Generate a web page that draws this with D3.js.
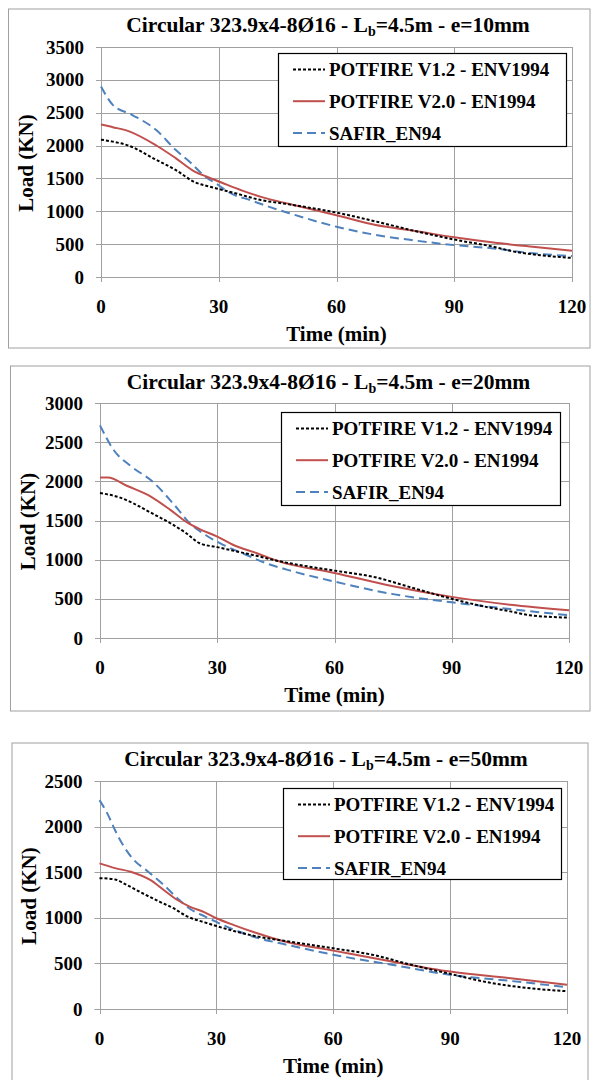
<!DOCTYPE html>
<html>
<head>
<meta charset="utf-8">
<script src="https://cdn.jsdelivr.net/npm/d3@7"></script>
<style>
  html, body { margin: 0; padding: 0; background: #fff; }
  svg { display: block; }
  text { font-family: "Liberation Serif", "Times New Roman", serif; font-weight: bold; fill: #000; }
</style>
</head>
<body>
<svg id="chart" width="591" height="1080"></svg>
<script>
// ---------- DATA ----------
const seriesNames = ["POTFIRE V1.2 - ENV1994", "POTFIRE V2.0 - EN1994", "SAFIR_EN94"];
const xTicks = [0, 30, 60, 90, 120];
const eccentricities = ["10mm", "20mm", "50mm"];
const yMaxes = [3500, 3000, 2500];

// e = 10 mm  [time (min), load (kN)]
const e10_potfireV12 = [[0,2090],[3,2060],[7,2000],[14,1785],[19,1630],[24,1440],[27,1385],[31,1325],[36,1245],[40,1180],[48,1105],[60,980],[70,845],[80,700],[90,570],[100,460],[105,390],[110,345],[120,290]];
const e10_potfireV20 = [[0,2320],[3,2280],[7,2220],[14,2005],[19,1810],[24,1600],[27,1525],[31,1430],[36,1315],[41,1215],[48,1110],[60,940],[70,790],[80,700],[90,605],[100,525],[110,460],[120,400]];
const e10_safir     = [[0,2900],[3,2620],[8,2465],[14,2240],[19,1935],[23,1730],[26,1555],[30,1395],[33,1275],[38,1170],[44,1045],[48,970],[60,765],[70,640],[80,555],[90,485],[100,435],[110,360],[120,320]];

// e = 20 mm
const e20_potfireV12 = [[0,1850],[5,1795],[8.5,1720],[13,1600],[18,1465],[22,1340],[25.5,1210],[30,1160],[35,1105],[40,1050],[45,990],[60,860],[70,780],[80,640],[90,500],[100,385],[105,340],[110,290],[120,260]];
const e20_potfireV20 = [[0,2050],[2,2050],[7,1940],[13,1805],[18,1635],[22,1485],[25.5,1390],[30,1295],[34,1190],[40,1085],[46,975],[60,830],[75,660],[90,525],[105,425],[120,355]];
const e20_safir     = [[0,2715],[3.5,2400],[8,2190],[13.5,1995],[19,1700],[23,1465],[27,1315],[31.5,1190],[37.5,1060],[42.5,955],[48,870],[60,720],[75,560],[90,455],[105,370],[120,290]];

// e = 50 mm
const e50_potfireV12 = [[0,1435],[4,1420],[7,1360],[11,1270],[15.5,1175],[19,1105],[22.5,1015],[27,950],[30,910],[34.5,855],[40.5,795],[47,750],[60,665],[70,595],[80,485],[90,385],[100,290],[110,230],[120,195]];
const e50_potfireV20 = [[0,1597],[4,1545],[8,1505],[13,1415],[16.5,1305],[20,1195],[23,1125],[27,1060],[30,995],[34.5,920],[40.5,830],[47,745],[60,640],[75,520],[90,410],[105,340],[120,265]];
const e50_safir     = [[0,2290],[2,2145],[4,1960],[6,1800],[8.5,1650],[12.5,1505],[16.5,1360],[20,1215],[23,1105],[27,1015],[30,955],[34.5,870],[40.5,780],[47,715],[60,595],[75,485],[90,375],[105,310],[120,240]];

const chartSeries = [
  [e10_potfireV12, e10_potfireV20, e10_safir],
  [e20_potfireV12, e20_potfireV20, e20_safir],
  [e50_potfireV12, e50_potfireV20, e50_safir]
];

// ---------- STYLE / LAYOUT ----------
const seriesStyles = [
  { color: "#000000", dash: "3,2", width: 2 },
  { color: "#C0504D", dash: null, width: 2 },
  { color: "#4F81BD", dash: "9,5", width: 2 }
];

const layouts = [
  { box: [8.5, 9, 590, 348],   plot: [101, 572, 47, 277],  legend: [278, 566, 53, 146], titleX: 328 },
  { box: [10.5, 366, 590, 711], plot: [100, 569, 403, 638], legend: [281, 560, 412, 505], titleX: 328.5 },
  { box: [12, 743, 588, 1095], plot: [99.5, 567, 781, 1009], legend: [283, 561, 788, 879], titleX: 326 }
];

const svg = d3.select("#chart");
const gridColor = "#A0A0A0";

layouts.forEach((L, ci) => {
  const g = svg.append("g");
  // outer chart border
  g.append("rect")
    .attr("x", L.box[0]).attr("y", L.box[1])
    .attr("width", L.box[2] - L.box[0]).attr("height", L.box[3] - L.box[1])
    .attr("fill", "#fff").attr("stroke", gridColor).attr("stroke-width", 1);

  const [pl, pr, pt, pb] = L.plot;
  const x = d3.scaleLinear().domain([0, 120]).range([pl, pr]);
  const y = d3.scaleLinear().domain([0, yMaxes[ci]]).range([pb, pt]);
  const yTicks = d3.range(0, yMaxes[ci] + 1, 500);

  // horizontal gridlines
  g.append("g").selectAll("line").data(yTicks).join("line")
    .attr("x1", pl - 5).attr("x2", pr)
    .attr("y1", d => Math.round(y(d)) + 0.5).attr("y2", d => Math.round(y(d)) + 0.5)
    .attr("stroke", gridColor).attr("stroke-width", 1);
  // vertical gridlines
  g.append("g").selectAll("line").data(xTicks).join("line")
    .attr("x1", d => Math.round(x(d)) + 0.5).attr("x2", d => Math.round(x(d)) + 0.5)
    .attr("y1", pt).attr("y2", pb + 5)
    .attr("stroke", gridColor).attr("stroke-width", 1);

  // y tick labels
  g.append("g").selectAll("text").data(yTicks).join("text")
    .attr("x", pl - 17).attr("y", d => y(d) + 6.5)
    .attr("text-anchor", "end").attr("font-size", 19)
    .text(d => d);
  // x tick labels
  g.append("g").selectAll("text").data(xTicks).join("text")
    .attr("x", d => x(d)).attr("y", pb + 36)
    .attr("text-anchor", "middle").attr("font-size", 19)
    .text(d => d);

  // axis titles
  g.append("text").attr("x", (pl + pr) / 2).attr("y", pb + 64)
    .attr("text-anchor", "middle").attr("font-size", 21).text("Time (min)");
  g.append("text")
    .attr("transform", `translate(${L.box[0] + 24},${(pt + pb) / 2 + 1}) rotate(-90)`)
    .attr("text-anchor", "middle").attr("font-size", 21).text("Load (KN)");

  // title
  const t = g.append("text").attr("x", L.titleX).attr("y", L.box[1] + 22.7)
    .attr("text-anchor", "middle").attr("font-size", 21.5);
  t.append("tspan").text("Circular 323.9x4-8Ø16 - L");
  t.append("tspan").attr("font-size", 14).attr("dy", 4).text("b");
  t.append("tspan").attr("dy", -4).text("=4.5m - e=" + eccentricities[ci]);

  // series lines
  const line = d3.line().x(d => x(d[0])).y(d => y(d[1])).curve(d3.curveMonotoneX);
  [2, 1, 0].forEach(si => {
    const s = seriesStyles[si];
    g.append("path").datum(chartSeries[ci][si])
      .attr("d", line).attr("fill", "none")
      .attr("stroke", s.color).attr("stroke-width", s.width)
      .attr("stroke-dasharray", s.dash);
  });

  // legend
  const [lx0, lx1, ly0, ly1] = L.legend;
  g.append("rect").attr("x", lx0 + 0.5).attr("y", ly0 + 0.5)
    .attr("width", lx1 - lx0).attr("height", ly1 - ly0)
    .attr("fill", "#fff").attr("stroke", "#000").attr("stroke-width", 1.2);
  seriesNames.forEach((name, si) => {
    const s = seriesStyles[si];
    const rowY = ly0 + 16.5 + si * 31.7;
    g.append("line").attr("x1", lx0 + 15).attr("x2", lx0 + 47)
      .attr("y1", rowY).attr("y2", rowY)
      .attr("stroke", s.color).attr("stroke-width", s.width)
      .attr("stroke-dasharray", s.dash);
    g.append("text").attr("x", lx0 + 51).attr("y", rowY + 6.7)
      .attr("font-size", 19).text(name);
  });
});
</script>
</body>
</html>
